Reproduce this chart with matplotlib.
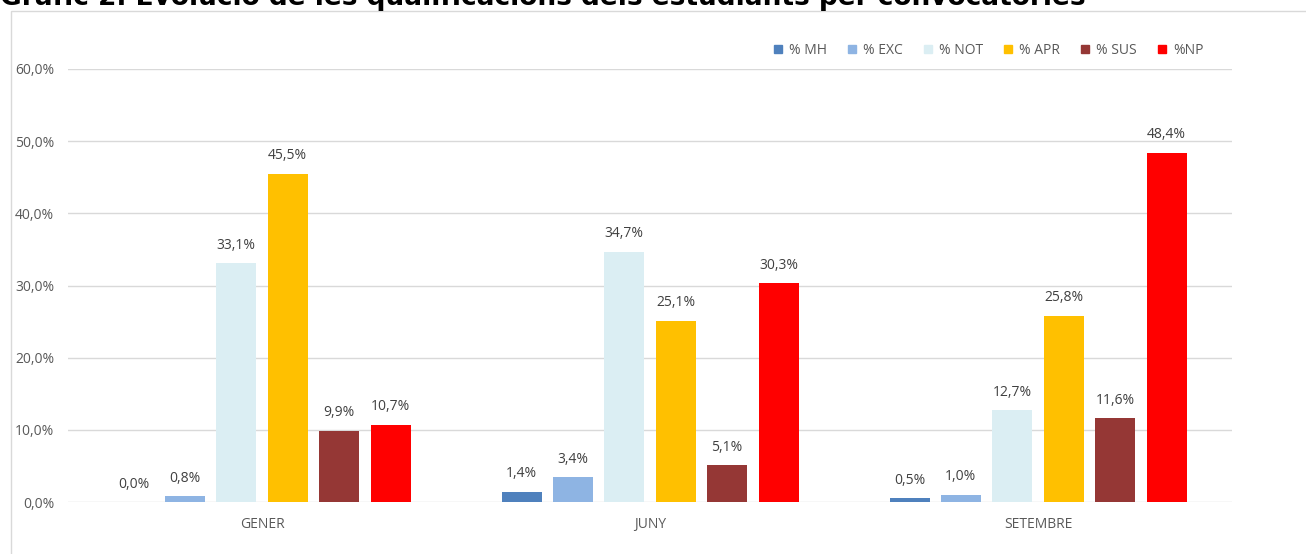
import matplotlib
matplotlib.use("Agg")
import matplotlib.pyplot as plt
from matplotlib.patches import Rectangle
from matplotlib.lines import Line2D
import numpy as np

categories = ["GENER", "JUNY", "SETEMBRE"]
series = ["% MH", "% EXC", "% NOT", "% APR", "% SUS", "%NP"]
mh = [0.0, 1.4, 0.5]
exc = [0.8, 3.4, 1.0]
notable = [33.1, 34.7, 12.7]
apr = [45.5, 25.1, 25.8]
sus = [9.9, 5.1, 11.6]
np_ = [10.7, 30.3, 48.4]
values = [mh, exc, notable, apr, sus, np_]
colors = ["#4F81BD", "#8EB4E3", "#DBEEF3", "#FFC000", "#953735", "#FF0000"]
yticks = [0, 10, 20, 30, 40, 50, 60]

plt.rcParams['font.family'] = ['Open Sans', 'DejaVu Sans']

W, H = 1306, 554
fig = plt.figure(figsize=(W / 100, H / 100), dpi=100)
ax = fig.add_axes([68 / W, (H - 502) / H, (1232 - 68) / W, (502 - 69) / H])

x = np.arange(len(categories))
pitch = 51.4 / 388
width = 40 / 388
for i, (vals, c, name) in enumerate(zip(values, colors, series)):
    off = (i - 2.5) * pitch
    ax.bar(x + off, vals, width=width, color=c, label=name, zorder=3)
    for xi, v in zip(x + off, vals):
        ax.annotate(f"{v:.1f}%".replace(".", ","), (xi, v), xytext=(0, 7.5),
                    textcoords="offset points", ha="center", va="bottom",
                    fontsize=10, color="#404040")

ax.set_xlim(-0.5, 2.5)
ax.set_ylim(0, 60)
ax.set_yticks(yticks)
ax.set_yticklabels([f"{t:.1f}%".replace(".", ",") for t in yticks])
ax.set_xticks(x)
ax.set_xticklabels(categories)
ax.tick_params(axis="both", length=0, labelsize=10, labelcolor="#595959")
ax.tick_params(axis="y", pad=10)
ax.tick_params(axis="x", pad=11)
ax.grid(axis="y", color="#D9D9D9", linewidth=1, zorder=0)
for s in ax.spines.values():
    s.set_visible(False)

# chart border
fig.patches.append(Rectangle((11 / W, -0.1), 1.2, 1 - 11 / H + 0.1,
                             transform=fig.transFigure, fill=False,
                             edgecolor="#D9D9D9", linewidth=1))

handles = [Line2D([], [], marker="s", linestyle="none", markersize=6,
                  markerfacecolor=c, markeredgecolor=c) for c in colors]
fig.legend(handles, series, loc="center", bbox_to_anchor=(988 / W, 1 - 50 / H),
           ncol=6, frameon=False, fontsize=10, labelcolor="#595959",
           handlelength=0.8, handletextpad=0.4, columnspacing=1.4)

fig.text(0.0, 1 - 5 / H, "Gràfic 2. Evolució de les qualificacions dels estudiants per convocatòries",
         fontsize=19, fontweight="bold", family="DejaVu Sans", va="baseline", ha="left")

fig.savefig("out.png", dpi=100)
